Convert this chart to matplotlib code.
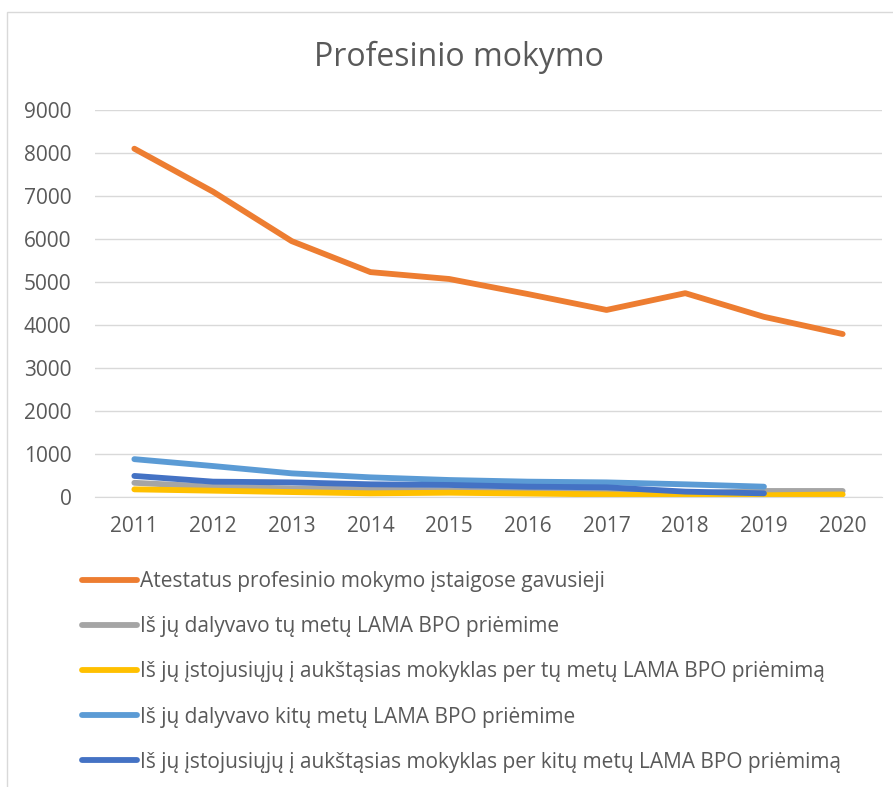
import numpy as np
import matplotlib.pyplot as plt
from matplotlib.patches import Rectangle

plt.rcParams['font.family'] = ['Open Sans', 'DejaVu Sans']

years = ['2011', '2012', '2013', '2014', '2015', '2016', '2017', '2018', '2019', '2020']

atestatus = [8100, 7100, 5950, 5230, 5070, 4720, 4350, 4740, 4190, 3790]
dalyv_tu = [330, 240, 200, 178, 150, 120, 100, 80, 140, 140]
istoj_tu = [178, 147, 115, 85, 100, 80, 60, 30, 40, 60]
dalyv_kitu = [880, 720, 550, 457, 395, 357, 340, 295, 240]
istoj_kitu = [490, 357, 340, 295, 280, 240, 225, 125, 85]

labels = [
    'Atestatus profesinio mokymo įstaigose gavusieji',
    'Iš jų dalyvavo tų metų LAMA BPO priėmime',
    'Iš jų įstojusiųjų į aukštąsias mokyklas per tų metų LAMA BPO priėmimą',
    'Iš jų dalyvavo kitų metų LAMA BPO priėmime',
    'Iš jų įstojusiųjų į aukštąsias mokyklas per kitų metų LAMA BPO priėmimą',
]
colors = ['#ED7D31', '#A5A5A5', '#FFC000', '#5B9BD5', '#4472C4']
series = [atestatus, dalyv_tu, istoj_tu, dalyv_kitu, istoj_kitu]

fig = plt.figure(figsize=(8.93, 7.87), dpi=100)
ax = fig.add_axes([95 / 893, 1 - 497 / 787, (882 - 95) / 893, (497 - 110) / 787])

x = np.arange(len(years))
for vals, col, lab in zip(series, colors, labels):
    ax.plot(x[:len(vals)], vals, color=col, lw=4.2, label=lab,
            solid_capstyle='round', solid_joinstyle='round')

ax.set_xlim(-0.5, len(years) - 0.5)
ax.set_ylim(0, 9000)
ax.set_yticks(np.arange(0, 9001, 1000))
ax.set_xticks(x)
ax.set_xticklabels(years)
ax.yaxis.grid(True, color='#D9D9D9', lw=1)
ax.set_axisbelow(True)
for s in ['top', 'right', 'left']:
    ax.spines[s].set_visible(False)
ax.spines['bottom'].set_color('#D9D9D9')
ax.tick_params(length=0, labelsize=15, colors='#595959')
ax.tick_params(axis='x', pad=14)
ax.tick_params(axis='y', pad=17)

fig.text(459 / 893, 1 - 57 / 787, 'Profesinio mokymo', ha='center', va='center',
         fontsize=23, color='#595959')

handles, labs = ax.get_legend_handles_labels()
leg = fig.legend(handles, labs, loc='upper left',
                 bbox_to_anchor=(82 / 893, 1 - 571 / 787),
                 frameon=False, fontsize=15, labelspacing=1.16, borderpad=0,
                 borderaxespad=0, handlelength=2.65, handletextpad=0.15)
for t in leg.get_texts():
    t.set_color('#595959')

fig.patches.append(Rectangle((7 / 893, -0.01), 1.0, 1 - 12 / 787 + 0.01,
                             transform=fig.transFigure, fill=False,
                             edgecolor='#D9D9D9', lw=1))

fig.savefig('out.png', dpi=100)
